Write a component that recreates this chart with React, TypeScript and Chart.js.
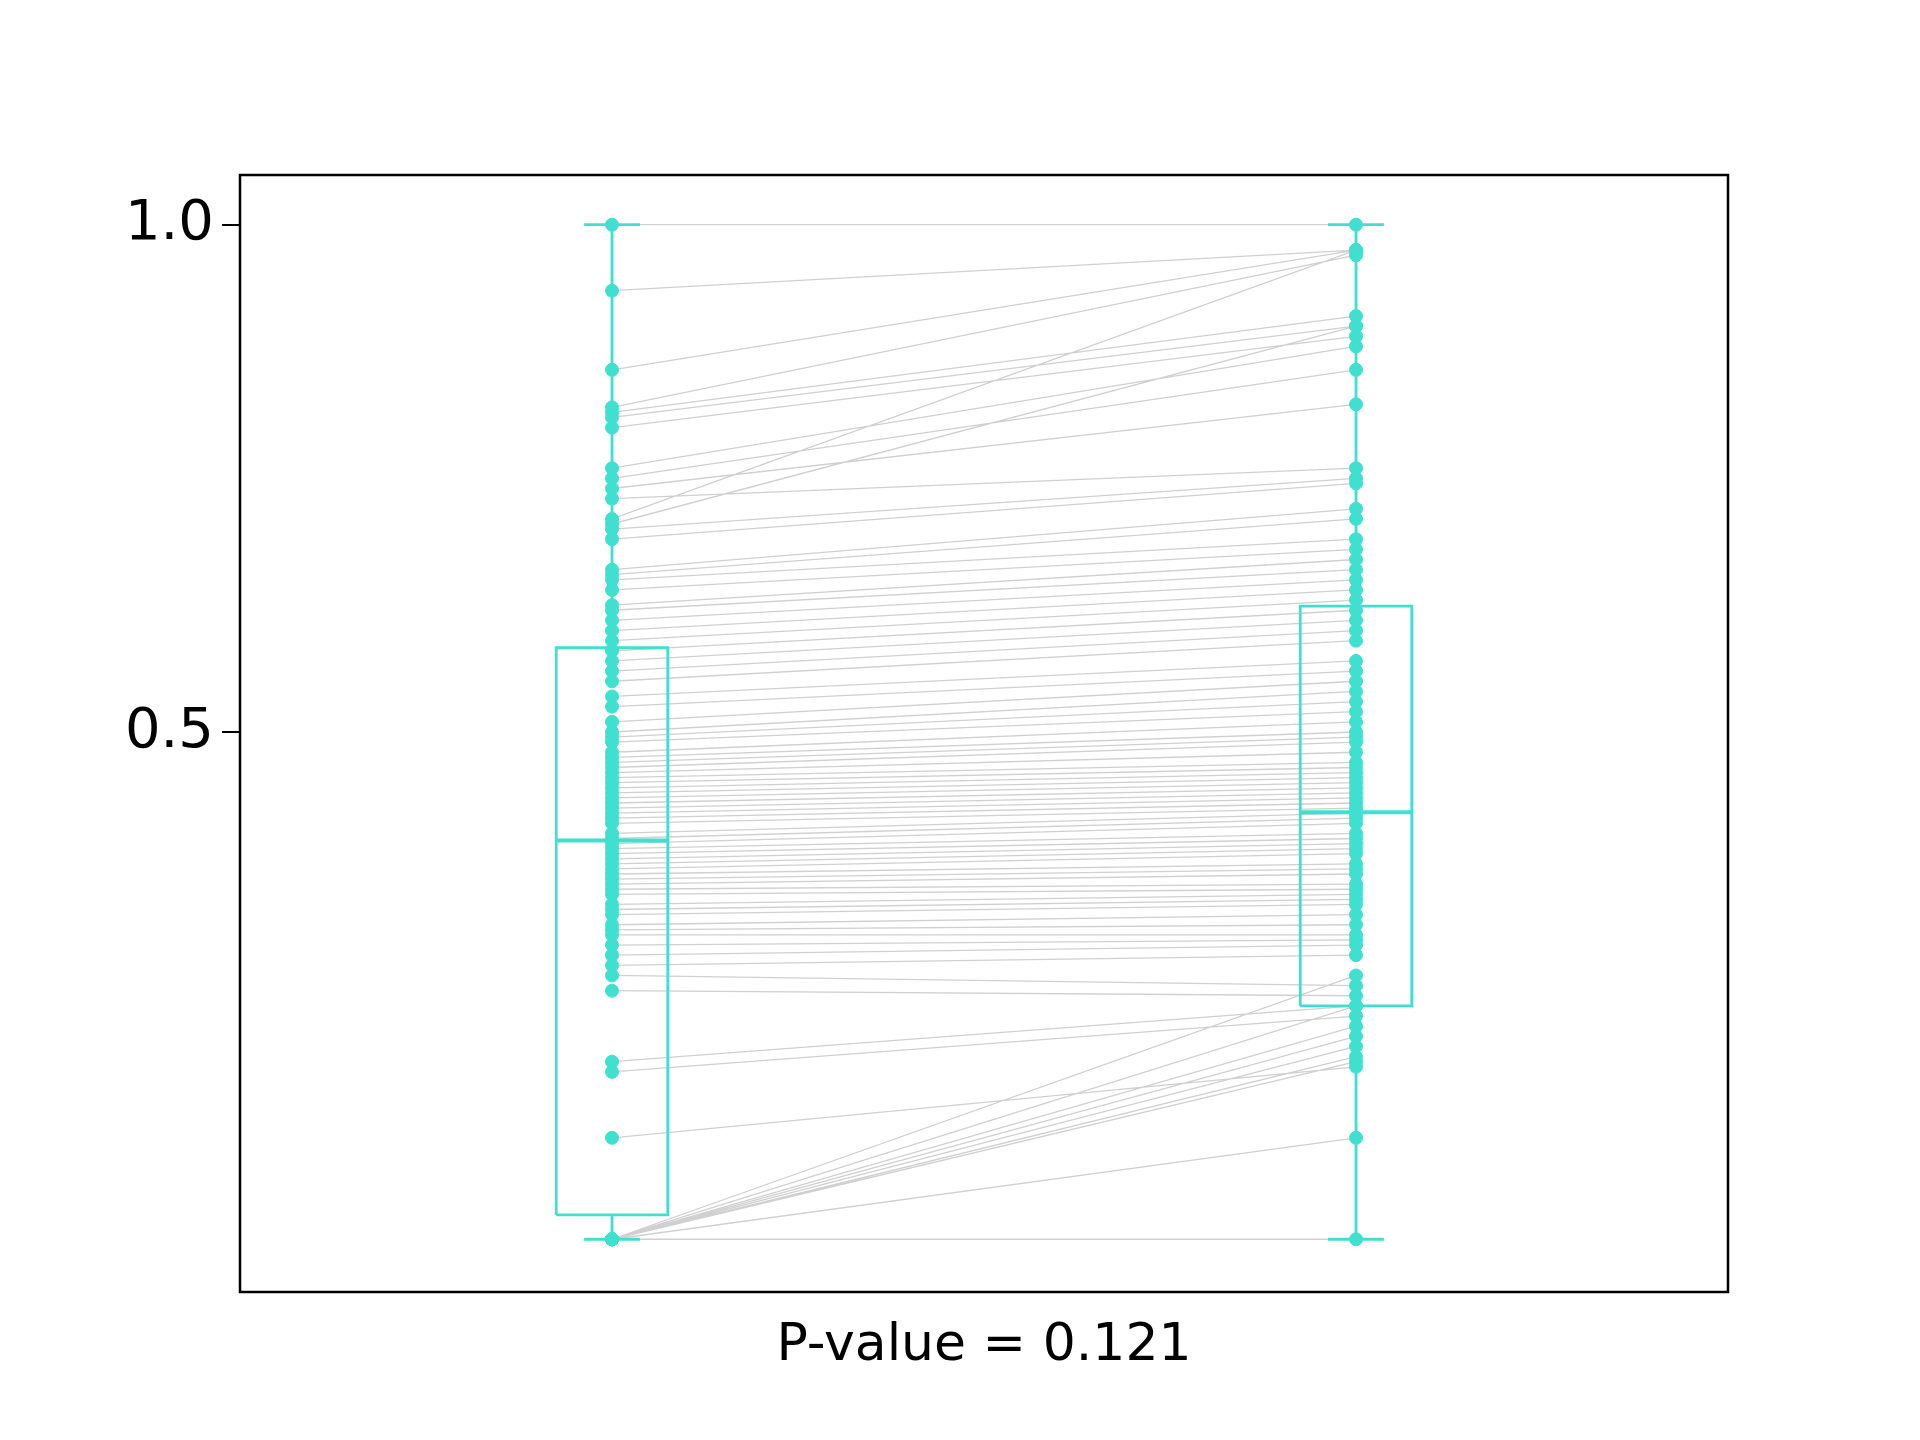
import { useEffect, useRef } from "react";
import { Chart, registerables } from "chart.js";

Chart.register(...registerables);

const leftValues = [
  1.0, 0.935, 0.857, 0.82, 0.815, 0.81, 0.8, 0.76, 0.75, 0.74, 0.73, 0.71, 0.705, 0.7, 0.69, 0.66, 0.655,
  0.65, 0.64, 0.625, 0.62, 0.61, 0.6, 0.59, 0.58, 0.57, 0.56, 0.55, 0.535, 0.525, 0.51, 0.5, 0.495, 0.49,
  0.48, 0.475, 0.47, 0.465, 0.46, 0.455, 0.45, 0.445, 0.44, 0.435, 0.43, 0.425, 0.42, 0.415, 0.41, 0.4,
  0.395, 0.39, 0.385, 0.38, 0.375, 0.37, 0.365, 0.36, 0.355, 0.35, 0.345, 0.34, 0.33, 0.325, 0.32, 0.31,
  0.305, 0.3, 0.29, 0.28, 0.27, 0.26, 0.245, 0.175, 0.165, 0.1, 0, 0, 0, 0, 0, 0, 0, 0, 0,
];
const rightValues = [
  1.0, 0.975, 0.975, 0.97, 0.91, 0.9, 0.89, 0.88, 0.857, 0.823, 0.76, 0.975, 0.9, 0.75, 0.745, 0.72, 0.71,
  0.69, 0.68, 0.67, 0.66, 0.65, 0.64, 0.63, 0.62, 0.61, 0.6, 0.59, 0.57, 0.56, 0.55, 0.54, 0.53, 0.52,
  0.51, 0.5, 0.495, 0.49, 0.48, 0.47, 0.465, 0.46, 0.455, 0.45, 0.445, 0.44, 0.435, 0.43, 0.425, 0.42,
  0.415, 0.41, 0.4, 0.395, 0.39, 0.385, 0.38, 0.37, 0.365, 0.36, 0.35, 0.345, 0.34, 0.335, 0.33, 0.32,
  0.31, 0.3, 0.295, 0.29, 0.28, 0.25, 0.24, 0.23, 0.22, 0.17, 0.23, 0.21, 0.2, 0.19, 0.18, 0.175, 0.1, 0, 0.26,
];
// [min, q1, median, q3, max]
const leftBox = [0, 0.024, 0.393, 0.583, 1.0];
const rightBox = [0, 0.23, 0.421, 0.624, 1.0];
const yTicks = [0.5, 1.0];
const pLabel = "P-value = 0.121";

const TEAL = "#40E0D0";

function boxPath(pos: number, b: number[]) {
  const hw = 0.075;
  const cw = 0.0375;
  const [mn, q1, , q3, mx] = b;
  return [
    { x: pos - hw, y: q1 }, { x: pos + hw, y: q1 }, { x: pos + hw, y: q3 }, { x: pos - hw, y: q3 }, { x: pos - hw, y: q1 },
    { x: pos, y: null },
    { x: pos, y: q1 }, { x: pos, y: mn },
    { x: pos, y: null },
    { x: pos, y: q3 }, { x: pos, y: mx },
    { x: pos, y: null },
    { x: pos - cw, y: mn }, { x: pos + cw, y: mn },
    { x: pos, y: null },
    { x: pos - cw, y: mx }, { x: pos + cw, y: mx },
  ];
}

function medianPath(pos: number, b: number[]) {
  return [{ x: pos - 0.075, y: b[2] }, { x: pos + 0.075, y: b[2] }];
}

const frame = {
  id: "frame",
  afterDraw(chart: any) {
    const { ctx, chartArea: a } = chart;
    ctx.save();
    ctx.strokeStyle = "#000";
    ctx.lineWidth = 2.5;
    ctx.strokeRect(a.left, a.top, a.right - a.left, a.bottom - a.top);
    ctx.restore();
  },
};

export default function App() {
  const ref = useRef<HTMLCanvasElement | null>(null);

  useEffect(() => {
    document.body.style.margin = "0";
    if (!ref.current) return;
    const pairs: any[] = [];
    leftValues.forEach((l, i) => {
      pairs.push({ x: 1, y: l }, { x: 2, y: rightValues[i] }, { x: 1.5, y: null });
    });
    const points = [
      ...leftValues.map((v) => ({ x: 1, y: v })),
      ...rightValues.map((v) => ({ x: 2, y: v })),
    ];
    const lineDs = (data: any, width: number) => ({
      type: "line" as const, data, borderColor: TEAL, borderWidth: width, pointRadius: 0, spanGaps: false, order: 1,
    });
    const chart = new Chart(ref.current, {
      type: "scatter",
      data: {
        datasets: [
          { type: "line", data: pairs as any, borderColor: "#d0d0d0", borderWidth: 1.3, pointRadius: 0, spanGaps: false, order: 3 },
          { data: points, backgroundColor: TEAL, borderColor: TEAL, pointRadius: 6.5, order: 2 },
          lineDs(boxPath(1, leftBox), 2.8) as any,
          lineDs(boxPath(2, rightBox), 2.8) as any,
          lineDs(medianPath(1, leftBox), 4) as any,
          lineDs(medianPath(2, rightBox), 4) as any,
        ],
      },
      options: {
        animation: false,
        responsive: false,
        layout: { padding: { left: 0, right: 192, top: 175, bottom: 58 } },
        plugins: { legend: { display: false }, tooltip: { enabled: false } },
        scales: {
          x: {
            type: "linear",
            min: 0.5,
            max: 2.5,
            grid: { display: false },
            border: { display: false },
            ticks: { display: false },
            title: { display: true, text: pLabel, color: "#000", font: { family: "DejaVu Sans", size: 52 }, padding: { top: 0, bottom: 4 } },
            afterFit: (s: any) => { s.height = 90; },
          },
          y: {
            min: -0.052,
            max: 1.049,
            afterBuildTicks: (s: any) => { s.ticks = yTicks.map((v) => ({ value: v })); },
            grid: { drawOnChartArea: false, drawTicks: true, tickLength: 18, color: "#000", lineWidth: 2 },
            border: { display: false },
            ticks: { color: "#000", font: { family: "DejaVu Sans", size: 56 }, padding: 8, callback: (v: any) => Number(v).toFixed(1) },
            afterFit: (s: any) => { s.width = 240; },
          },
        },
      },
      plugins: [frame],
    });
    return () => chart.destroy();
  }, []);

  return (
    <div style={{ width: 1920, height: 1440, background: "#fff" }}>
      <canvas ref={ref} width={1920} height={1440} />
    </div>
  );
}
